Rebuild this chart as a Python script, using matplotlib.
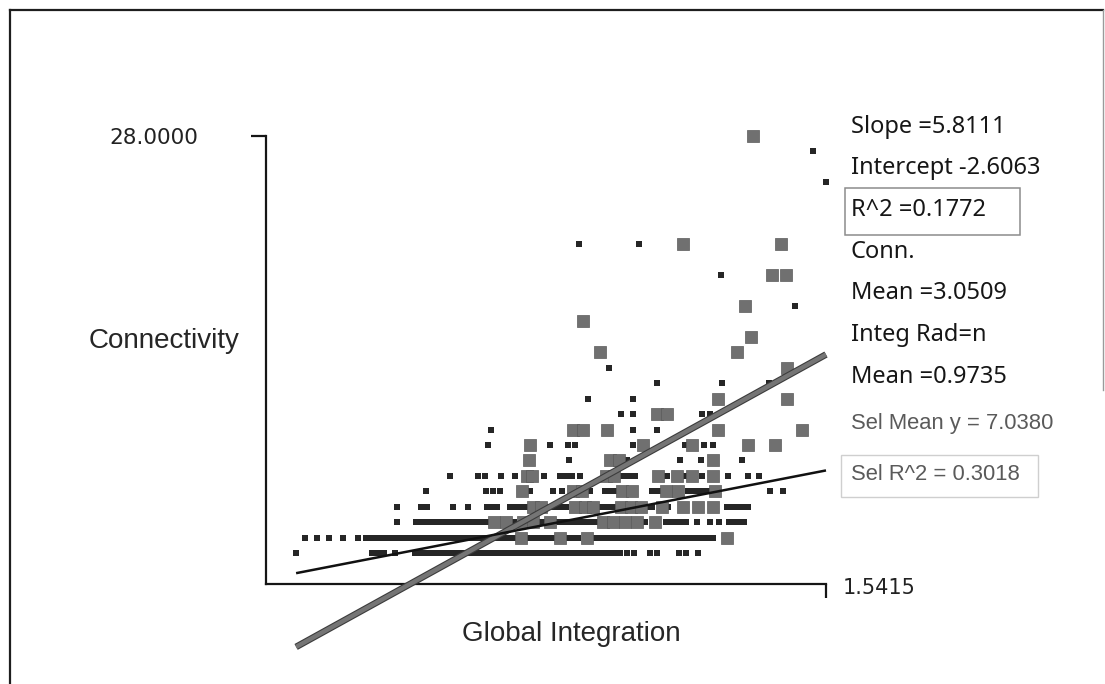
import numpy as np
import matplotlib
matplotlib.use('Agg')
import matplotlib.pyplot as plt
import matplotlib.patheffects as pe
from matplotlib.patches import Rectangle
from matplotlib.lines import Line2D

# regression summary (connectivity against global integration)
slope = 5.8111
intercept = -2.6063
r2 = 0.1772
conn_mean = 3.0509
integ_mean = 0.9735
sel_mean_y = 7.0380
sel_r2 = 0.3018
# fit through the selected nodes only
sel_slope = 16.54
sel_intercept = -11.64

# integration values of every node, one list per connectivity value
dots_c1 = [0.397, 0.561, 0.574, 0.587, 0.611, 0.654, 0.665, 0.675, 0.686, 0.697,
           0.708, 0.719, 0.729, 0.740, 0.751, 0.762, 0.775, 0.786, 0.796, 0.807,
           0.818, 0.829, 0.840, 0.850, 0.861, 0.872, 0.883, 0.894, 0.904, 0.915,
           0.926, 0.937, 0.948, 0.958, 0.969, 0.980, 0.991, 1.002, 1.012, 1.023,
           1.034, 1.045, 1.056, 1.066, 1.077, 1.088, 1.097, 1.112, 1.127, 1.161,
           1.177, 1.224, 1.239, 1.265]
dots_c2 = [0.416, 0.442, 0.468, 0.498, 0.531, 0.548, 0.559, 0.570, 0.580, 0.593,
           0.604, 0.615, 0.626, 0.637, 0.647, 0.658, 0.669, 0.680, 0.691, 0.701,
           0.712, 0.723, 0.734, 0.745, 0.755, 0.766, 0.777, 0.788, 0.799, 0.809,
           0.820, 0.831, 0.842, 0.853, 0.863, 0.874, 0.896, 0.907, 0.917, 0.928,
           0.939, 0.950, 0.984, 0.995, 1.006, 1.038, 1.049, 1.060, 1.071, 1.082,
           1.092, 1.103, 1.114, 1.125, 1.136, 1.146, 1.157, 1.168, 1.179, 1.190,
           1.200, 1.211, 1.222, 1.233, 1.244, 1.254, 1.265, 1.276, 1.287, 1.298]
dots_c3 = [0.615, 0.656, 0.667, 0.678, 0.688, 0.699, 0.712, 0.723, 0.734, 0.745,
           0.755, 0.766, 0.777, 0.788, 0.799, 0.809, 0.868, 0.924, 0.935, 0.956,
           0.967, 0.978, 0.989, 0.999, 1.010, 1.021, 1.032, 1.043, 1.151, 1.196,
           1.207, 1.218, 1.228, 1.239, 1.263, 1.291, 1.310, 1.332, 1.343, 1.354,
           1.364]
dots_c4 = [0.615, 0.667, 0.680, 0.736, 0.768, 0.809, 0.820, 0.831, 0.859, 0.870,
           0.881, 0.891, 0.902, 0.937, 0.948, 0.958, 0.969, 0.980, 1.051, 1.062,
           1.073, 1.084, 1.155, 1.166, 1.200, 1.328, 1.341, 1.352, 1.362, 1.373]
dots_c5 = [0.678, 0.807, 0.822, 0.837, 0.902, 0.952, 0.971, 1.032, 1.064, 1.077,
           1.090, 1.166, 1.179, 1.244, 1.254, 1.265, 1.276, 1.287, 1.421, 1.449]
dots_c6 = [0.729, 0.790, 0.805, 0.840, 0.870, 0.932, 0.967, 0.980, 0.993, 1.010,
           1.097, 1.107, 1.118, 1.129, 1.198, 1.237, 1.274, 1.330, 1.373, 1.397]
dots_c7 = [0.986, 1.112, 1.226, 1.272, 1.360]
dots_c8 = [0.812, 0.945, 0.984, 0.999, 1.125, 1.237, 1.278, 1.298]
dots_c9 = [0.818, 1.125, 1.177]
dots_c10 = [1.099, 1.125, 1.274, 1.291]
dots_c11 = [1.028, 1.125]
dots_c12 = [1.177, 1.317, 1.418]
dots_c13 = [1.073]
dots_hi_conn = [17, 19, 21, 21, 25, 27]
dots_hi_integ = [1.475, 1.315, 1.008, 1.138, 1.5415, 1.513]

# selected nodes
sel_c2 = [0.883, 0.967, 1.025, 1.328]
sel_c3 = [0.824, 0.850, 0.887, 0.909, 0.945, 1.060, 1.082, 1.107, 1.133, 1.172]
sel_c4 = [0.909, 0.926, 0.999, 1.021, 1.038, 1.099, 1.120, 1.142, 1.187, 1.233,
          1.265, 1.298]
sel_c5 = [0.885, 0.995, 1.015, 1.101, 1.123, 1.196, 1.222, 1.302]
sel_c6 = [0.896, 0.907, 1.066, 1.084, 1.179, 1.220, 1.252, 1.298]
sel_c7 = [0.900, 1.075, 1.095, 1.298]
sel_c8 = [0.902, 1.146, 1.252, 1.373, 1.431]
sel_c9 = [0.995, 1.017, 1.069, 1.308, 1.490]
sel_c10 = [1.177, 1.198]
sel_c11 = [1.308, 1.457]
sel_hi_conn = [13, 14, 14, 15, 16, 17, 19, 19, 21, 21, 28]
sel_hi_integ = [1.457, 1.053, 1.349, 1.380, 1.017, 1.367, 1.425, 1.455, 1.233, 1.444, 1.384]


def stack(rows, hi_conn, hi_integ):
    xs, ys = [], []
    for c, vals in rows:
        xs += vals
        ys += [c] * len(vals)
    return np.array(xs + hi_integ), np.array(ys + hi_conn, dtype=float)


dot_x, dot_y = stack([(1, dots_c1), (2, dots_c2), (3, dots_c3), (4, dots_c4),
                      (5, dots_c5), (6, dots_c6), (7, dots_c7), (8, dots_c8),
                      (9, dots_c9), (10, dots_c10), (11, dots_c11),
                      (12, dots_c12), (13, dots_c13)],
                     dots_hi_conn, dots_hi_integ)
sel_x, sel_y = stack([(2, sel_c2), (3, sel_c3), (4, sel_c4), (5, sel_c5),
                      (6, sel_c6), (7, sel_c7), (8, sel_c8), (9, sel_c9),
                      (10, sel_c10), (11, sel_c11)],
                     sel_hi_conn, sel_hi_integ)

W, H = 1105, 684
fig = plt.figure(figsize=(W / 100, H / 100), dpi=100)


def fx(px):
    return px / W


def fy(py):
    return 1 - py / H


x_lo, x_hi = 0.332, 1.5415
y_lo, y_hi = -1.0, 28.0

ax = fig.add_axes([fx(266), fy(584), fx(826) - fx(266), fy(136) - fy(584)])
ax.set_xlim(x_lo, x_hi)
ax.set_ylim(y_lo, y_hi)
ax.patch.set_alpha(0)

ax.scatter(dot_x, dot_y, marker='s', s=15, c='#262626', linewidths=0,
           clip_on=False, zorder=2)
ax.scatter(sel_x, sel_y, marker='s', s=64, c='#707070', edgecolors='#5a5a5a',
           linewidths=0.5, clip_on=False, zorder=3)

all_x = np.concatenate([dot_x, sel_x])
line_x = np.array([all_x.min(), all_x.max()])
ax.plot(line_x, slope * line_x + intercept, color='#111111', lw=1.8,
        clip_on=False, zorder=5, solid_capstyle='butt')
ax.plot(line_x, sel_slope * line_x + sel_intercept, color='#757575', lw=3.2,
        clip_on=False, zorder=4, solid_capstyle='butt',
        path_effects=[pe.Stroke(linewidth=4.8, foreground='#3c3c3c'), pe.Normal()])

for side in ('top', 'right'):
    ax.spines[side].set_visible(False)
for side in ('left', 'bottom'):
    ax.spines[side].set_linewidth(1.6)
    ax.spines[side].set_color('#151515')

ax.set_yticks([y_hi])
ax.set_yticklabels([f'{y_hi:.4f}'], family='DejaVu Sans', fontsize=15.5,
                   color='#222222')
ax.tick_params(axis='y', length=10.5, width=1.6, pad=38, color='#151515')
ax.set_xticks([x_hi])
ax.set_xticklabels([''])
ax.tick_params(axis='x', length=10, width=1.6, color='#151515')
ax.annotate(f'{x_hi:.4f}', (x_hi, y_lo), xytext=(12, -3),
            textcoords='offset points', ha='left', va='center',
            family='DejaVu Sans', fontsize=15, color='#222222',
            annotation_clip=False)

fig.text(fx(164), fy(341), 'Connectivity', ha='center', va='center',
         family='Liberation Sans', fontsize=20, color='#262626')
fig.text(fx(571), fy(634), 'Global Integration', ha='center', va='center',
         family='Liberation Sans', fontsize=20, color='#262626')

stats = [(127, f'Slope ={slope:.4f}'),
         (168, f'Intercept {intercept:.4f}'),
         (210, f'R^2 ={r2:.4f}'),
         (252, 'Conn.'),
         (293, f'Mean ={conn_mean:.4f}'),
         (335, 'Integ Rad=n'),
         (377, f'Mean ={integ_mean:.4f}')]
for py, s in stats:
    fig.text(fx(851), fy(py), s, ha='left', va='center', family='Noto Sans',
             fontsize=17, color='#161616')
fig.text(fx(851), fy(423), f'Sel Mean y = {sel_mean_y:.4f}', ha='left',
         va='center', family='Liberation Sans', fontsize=15.8, color='#5a5a5a')
fig.text(fx(851), fy(474), f'Sel R^2 = {sel_r2:.4f}', ha='left',
         va='center', family='Liberation Sans', fontsize=15.8, color='#5a5a5a')

fig.add_artist(Rectangle((fx(845), fy(235)), fx(1020) - fx(845),
                         fy(188) - fy(235), transform=fig.transFigure,
                         fill=False, ec='#8c8c8c', lw=1.1))
fig.add_artist(Rectangle((fx(841), fy(497)), fx(1038) - fx(841),
                         fy(455) - fy(497), transform=fig.transFigure,
                         fill=False, ec='#cfcfcf', lw=1.0))

# outer frame
fig.add_artist(Line2D([fx(10), fx(10)], [fy(10), 0], color='#1e1e1e', lw=1.6))
fig.add_artist(Line2D([fx(10), fx(1103)], [fy(10), fy(10)], color='#1e1e1e', lw=1.6))
fig.add_artist(Line2D([fx(1103), fx(1103)], [fy(10), fy(390)], color='#9a9a9a', lw=1.0))

fig.savefig('out.png', dpi=100, facecolor='white')
